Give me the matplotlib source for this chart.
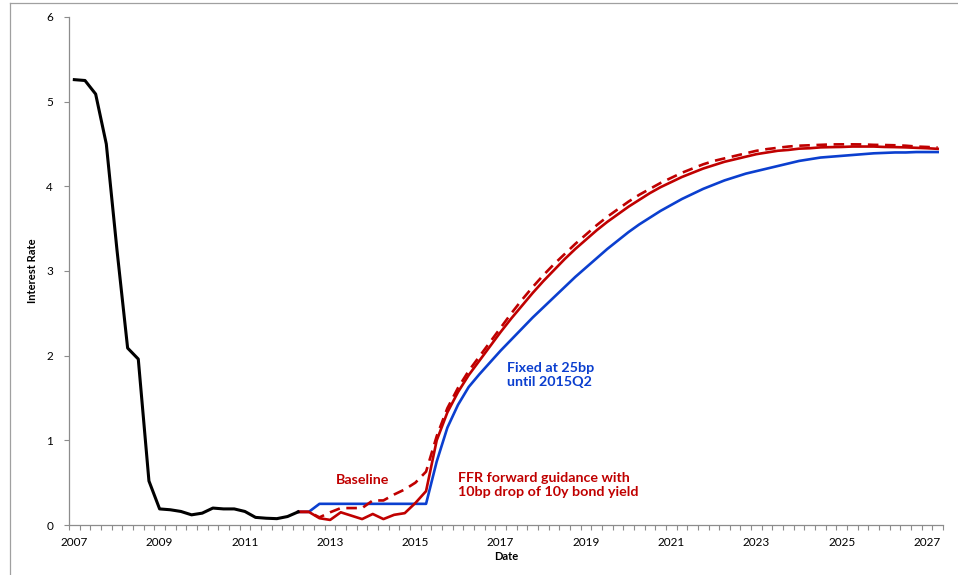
import numpy as np
import matplotlib
matplotlib.use("Agg")
import matplotlib.pyplot as plt
from matplotlib.lines import Line2D

plt.rcParams['font.family'] = ['Lato', 'DejaVu Sans']

# quarterly data, index 0 = 2007Q1
start_year = 2007

history = [5.26, 5.25, 5.09, 4.50, 3.25, 2.09, 1.96, 0.52, 0.19, 0.18, 0.16,
           0.12, 0.14, 0.20, 0.19, 0.19, 0.16, 0.09, 0.08, 0.075, 0.10, 0.155]

# forecasts start at index 21 (2012Q2)
fc_start = 21
fixed_25bp = [0.155, 0.155, 0.25, 0.25, 0.25, 0.25, 0.25, 0.25, 0.25, 0.25, 0.25,
              0.25, 0.25, 0.75, 1.15, 1.42, 1.63, 1.78, 1.92, 2.06, 2.19,
              2.32, 2.45, 2.57, 2.69, 2.81, 2.93, 3.04, 3.15, 3.26, 3.36, 3.46,
              3.55, 3.63, 3.71, 3.78, 3.85, 3.91, 3.97, 4.02, 4.07, 4.11, 4.15,
              4.18, 4.21, 4.24, 4.27, 4.30, 4.32, 4.34, 4.35, 4.36, 4.37, 4.38,
              4.39, 4.395, 4.40, 4.40, 4.405, 4.405, 4.405]
ffr_guidance = [0.155, 0.155, 0.08, 0.06, 0.15, 0.11, 0.07, 0.13, 0.07, 0.12, 0.14,
                0.26, 0.40, 1.00, 1.33, 1.57, 1.77, 1.94, 2.11, 2.28, 2.44, 2.59,
                2.74, 2.88, 3.01, 3.14, 3.26, 3.37, 3.48, 3.58, 3.67, 3.76, 3.84,
                3.92, 3.99, 4.05, 4.11, 4.16, 4.21, 4.25, 4.29, 4.32, 4.35, 4.38,
                4.40, 4.42, 4.43, 4.445, 4.45, 4.46, 4.463, 4.465, 4.47, 4.47, 4.47,
                4.465, 4.463, 4.46, 4.455, 4.45, 4.443]
baseline = [0.155, 0.155, 0.09, 0.15, 0.20, 0.20, 0.20, 0.29, 0.29, 0.36, 0.42,
            0.50, 0.63, 1.05, 1.38, 1.62, 1.82, 1.99, 2.16, 2.33, 2.50, 2.66,
            2.81, 2.95, 3.08, 3.20, 3.32, 3.43, 3.54, 3.64, 3.73, 3.82, 3.90,
            3.97, 4.04, 4.10, 4.16, 4.21, 4.26, 4.30, 4.33, 4.36, 4.39, 4.42,
            4.44, 4.455, 4.47, 4.48, 4.485, 4.49, 4.495, 4.496, 4.496, 4.495, 4.49,
            4.488, 4.485, 4.48, 4.47, 4.465, 4.458]

year_labels = ['2007', '2009', '2011', '2013', '2015', '2017', '2019', '2021',
               '2023', '2025', '2027']


def quarters(first, n):
    return start_year + (first + np.arange(n)) / 4.0


blue = '#0B3FCF'
red = '#C00000'
gray = '#8C8C8C'

fig = plt.figure(figsize=(9.58, 5.75), dpi=100)
ax = fig.add_axes([69 / 958, 1 - 525 / 575, 874 / 958, 508 / 575])

ax.plot(quarters(fc_start, len(fixed_25bp)), fixed_25bp, color=blue, lw=1.9)
ax.plot(quarters(fc_start, len(baseline)), baseline, color=red, lw=1.9,
        dashes=(4, 2.5))
ax.plot(quarters(fc_start, len(ffr_guidance)), ffr_guidance, color=red, lw=1.9)
ax.plot(quarters(0, len(history)), history, color='black', lw=2.2)

n_q = 82
ax.set_xlim(start_year - 0.125, start_year - 0.125 + n_q / 4)
ax.set_ylim(0, 6)

ax.set_xticks([int(y) for y in year_labels])
ax.set_xticklabels(year_labels)
ax.set_xticks(start_year - 0.125 + np.arange(n_q + 1) / 4, minor=True)
ax.tick_params(axis='x', which='major', length=0, pad=9, labelsize=8.5)
ax.tick_params(axis='x', which='minor', length=3.5, color=gray, width=0.8)
ax.set_yticks(range(7))
ax.tick_params(axis='y', length=3.5, color=gray, width=0.8, labelsize=8.5, pad=8)

for s in ['top', 'right']:
    ax.spines[s].set_visible(False)
for s in ['left', 'bottom']:
    ax.spines[s].set_color(gray)
    ax.spines[s].set_linewidth(0.9)

ax.set_xlabel('Date', fontsize=8, fontweight='bold', labelpad=2)
ax.set_ylabel('Interest Rate', fontsize=8, fontweight='bold', labelpad=6)

ax.text(2013.75, 0.53, 'Baseline', color=red, fontsize=10.3, fontweight='bold',
        ha='center', va='center')
ax.text(2016.0, 0.47, 'FFR forward guidance with\n10bp drop of 10y bond yield',
        color=red, fontsize=10.3, fontweight='bold', ha='left', va='center',
        linespacing=1.2)
ax.text(2017.15, 1.77, 'Fixed at 25bp\nuntil 2015Q2', color=blue, fontsize=10.3,
        fontweight='bold', ha='left', va='center', linespacing=1.2)

# chart area border
fig.add_artist(Line2D([9.5 / 958, 9.5 / 958], [0, 1 - 3 / 575], color='#A0A0A0', lw=0.9))
fig.add_artist(Line2D([9.5 / 958, 1], [1 - 3 / 575, 1 - 3 / 575], color='#A0A0A0', lw=0.9))

fig.savefig('out.png', dpi=100)
